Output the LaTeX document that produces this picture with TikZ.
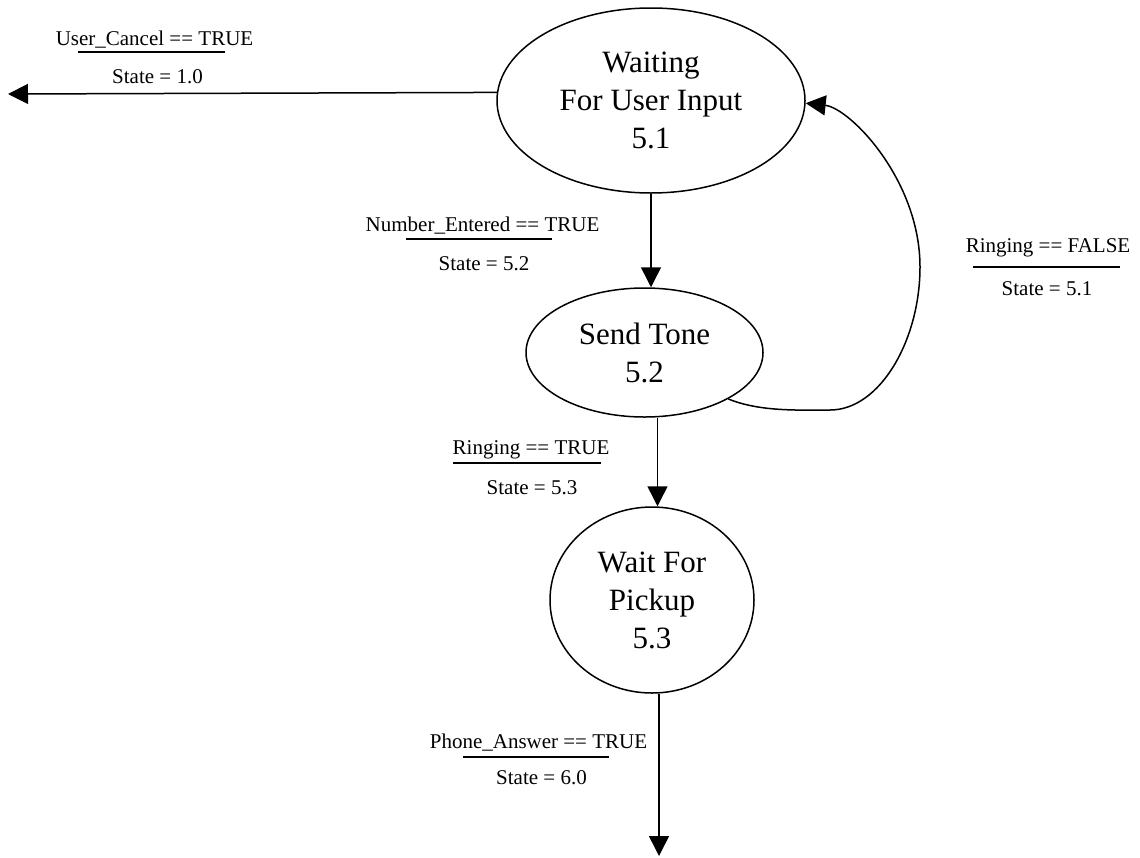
\documentclass[tikz,border=0pt]{standalone}
\usepackage{fontspec}
\setmainfont{Liberation Serif}
\usetikzlibrary{shapes.geometric,arrows.meta}

\begin{document}
\begin{tikzpicture}[x=1pt,y=-1pt,
  state/.style={draw, ellipse, line width=1.5pt, inner sep=0pt, align=center,
                font=\fontsize{31}{38}\selectfont},
  arr/.style={draw, line width=1.5pt, -{Triangle[length=20pt,width=20pt]}},
  cond/.style={anchor=base, inner sep=0pt, font=\fontsize{21}{25}\selectfont},
  condrule/.style={line width=1.5pt}]
\useasboundingbox (0,0) rectangle (1140,857);

% states
\node[state, minimum width=308pt, minimum height=185pt] (s51) at (651,100.5)
  {Waiting\\For User Input\\5.1};
\node[state, minimum width=237pt, minimum height=129pt] (s52) at (644.5,352.5)
  {Send Tone\\5.2};
\node[state, minimum width=204pt, minimum height=186pt] (s53) at (652,600)
  {Wait For\\Pickup\\5.3};

% free ends of the exit transitions
\coordinate (toS10) at (8,94);
\coordinate (toS60) at (659,856);

% transitions
\draw[arr] (s51.177.6) -- (toS10);
\draw[arr] (s51.south) -- (s51.south |- s52.north);
\draw[arr] ([xshift=13pt]s52.south) -- ([xshift=13pt]s52.south |- s53.north);
\draw[arr] ([xshift=7pt]s53.south) -- (toS60);
\draw[arr] (s52.-29) .. controls (760,412) and (800,410) .. (830,410)
  .. controls (880,410) and (920,340) .. (920,267)
  .. controls (920,180) and (850,108) .. (s51.-1);

% transition conditions and actions
\node[cond] (c10) at (154.5,45) {User\_Cancel == TRUE};
\node[cond] (a10) at (157.5,83) {State = 1.0};
\draw[condrule] (78,52) -- (225,52);

\node[cond] (c52) at (482.5,231) {Number\_Entered == TRUE};
\node[cond] (a52) at (484,270) {State = 5.2};
\draw[condrule] (406,239) -- (552,239);

\node[cond] (c51) at (1048,252) {Ringing == FALSE};
\node[cond] (a51) at (1047,295) {State = 5.1};
\draw[condrule] (973,267) -- (1120,267);

\node[cond] (c53) at (531,454) {Ringing == TRUE};
\node[cond] (a53) at (532,494) {State = 5.3};
\draw[condrule] (453,463) -- (601,463);

\node[cond] (c60) at (538.5,748) {Phone\_Answer == TRUE};
\node[cond] (a60) at (541.5,784) {State = 6.0};
\draw[condrule] (463,757) -- (609,757);
\end{tikzpicture}
\end{document}
